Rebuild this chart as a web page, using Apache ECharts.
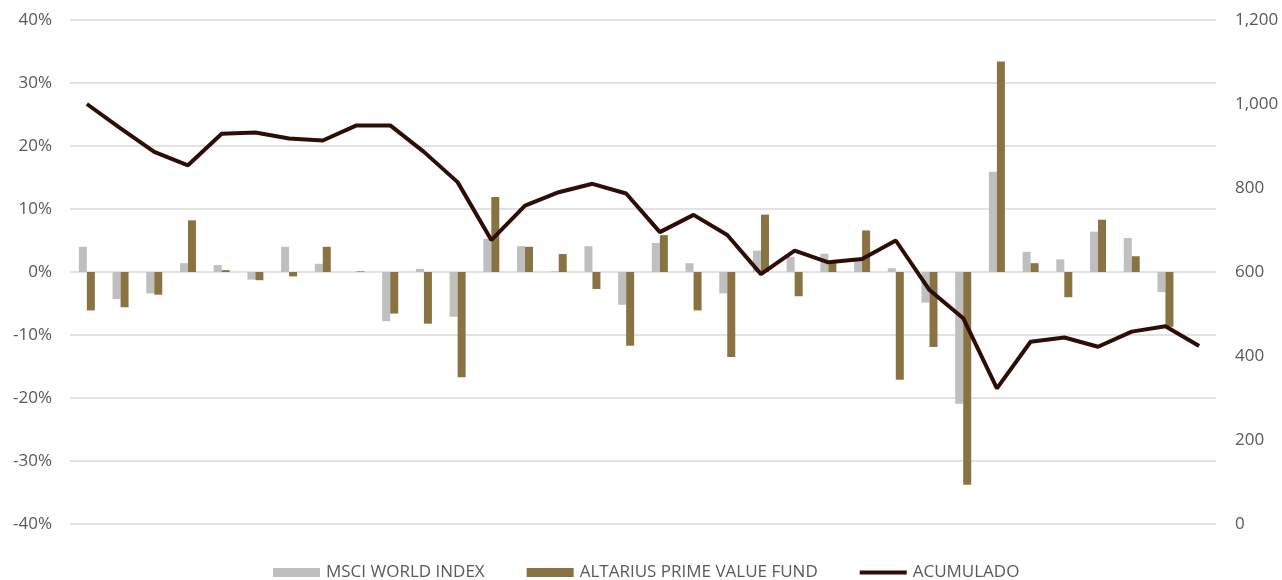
<!DOCTYPE html>
<html>
<head>
<meta charset="utf-8">
<script src="https://cdn.jsdelivr.net/npm/echarts@6/dist/echarts.min.js"></script>
<style>
  html, body { margin: 0; padding: 0; background: #fff; }
  #main { width: 1282px; height: 580px; }
</style>
</head>
<body>
<div id="main"></div>
<script>
// periodos (sin etiquetas en el eje)
var periodos = [];
for (var i = 1; i <= 34; i++) periodos.push(String(i));

// rentabilidad en %
var msci = [4.0, -4.3, -3.4, 1.4, 1.1, -1.2, 4.0, 1.3, 0, -7.8, 0.5, -7.1, 5.3, 4.1, 0.1, 4.1, -5.2,
            4.6, 1.4, -3.4, 3.4, 2.4, 2.9, 2.2, 0.6, -4.85, -20.9, 15.9, 3.2, 2.0, 6.4, 5.4, -3.2, null];
var fondo = [-6.1, -5.6, -3.6, 8.2, 0.3, -1.3, -0.7, 4.0, 0.1, -6.6, -8.2, -16.7, 11.9, 4.0, 2.85, -2.7, -11.7,
             5.85, -6.1, -13.5, 9.1, -3.85, 1.5, 6.6, -17.1, -11.9, -33.75, 33.4, 1.4, -4.0, 8.3, 2.5, -8.7, null];
// valor acumulado (eje derecho)
var acumulado = [1000, 942, 886, 854, 929, 932, 918, 913, 949, 949, 886, 814, 676, 758, 790, 810, 787,
                 695, 736, 688, 595, 651, 623, 631, 675, 557, 490, 323, 434, 444, 422, 458, 471, 424];

var chart = echarts.init(document.getElementById('main'));
var txt = { color: '#595959', fontSize: 17, fontFamily: 'Open Sans' };

chart.setOption({
  animation: false,
  grid: { left: 70, right: 66, top: 20, bottom: 56 },
  legend: {
    left: 268, top: 559,
    itemWidth: 47, itemHeight: 9, itemGap: 42,
    textStyle: { color: '#595959', fontSize: 17, fontFamily: 'Open Sans', padding: [0, 0, 0, 1] },
    data: [
      { name: 'MSCI WORLD INDEX', icon: 'rect' },
      { name: 'ALTARIUS PRIME VALUE FUND', icon: 'rect' },
      { name: 'ACUMULADO', icon: 'path://M0,0H47V4H0Z' }   // linea gruesa
    ]
  },
  xAxis: {
    type: 'category',
    data: periodos,
    axisLine: { show: false },
    axisTick: { show: false },
    axisLabel: { show: false }
  },
  yAxis: [
    {
      type: 'value', min: -40, max: 40, interval: 10,
      axisLabel: Object.assign({ formatter: '{value}%', margin: 18 }, txt),
      axisLine: { show: false }, axisTick: { show: false },
      splitLine: { lineStyle: { color: '#d9d9d9', width: 1.5 } }
    },
    {
      type: 'value', min: 0, max: 1200, interval: 200,
      axisLabel: Object.assign({
        margin: 19,
        formatter: function (v) { return v.toLocaleString('en-US'); }
      }, txt),
      axisLine: { show: false }, axisTick: { show: false },
      splitLine: { show: false }
    }
  ],
  series: [
    {
      name: 'MSCI WORLD INDEX', type: 'bar', data: msci,
      barWidth: 8, barGap: '0%',
      itemStyle: { color: '#bfbfbf' }
    },
    {
      name: 'ALTARIUS PRIME VALUE FUND', type: 'bar', data: fondo,
      barWidth: 8,
      itemStyle: { color: '#8a7342' }
    },
    {
      name: 'ACUMULADO', type: 'line', yAxisIndex: 1, data: acumulado,
      symbol: 'none', z: 5,
      lineStyle: { color: '#2e0d07', width: 4 },
      itemStyle: { color: '#2e0d07' }
    }
  ]
});
</script>
</body>
</html>
